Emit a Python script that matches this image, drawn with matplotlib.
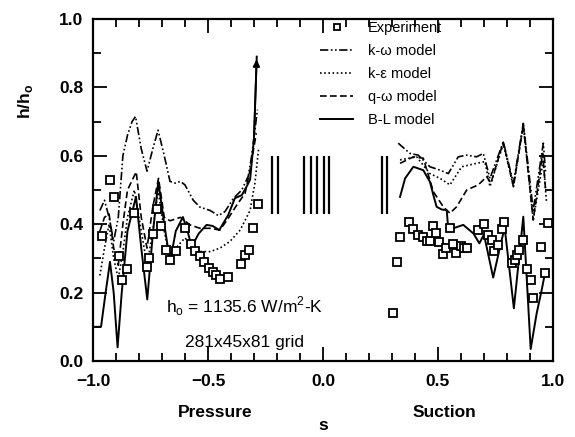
import numpy as np
import matplotlib
matplotlib.use("Agg")
import matplotlib.pyplot as plt
from matplotlib.ticker import MultipleLocator

plt.rcParams['font.family'] = ['Liberation Sans', 'DejaVu Sans']
plt.rcParams['mathtext.fontset'] = 'custom'
plt.rcParams['mathtext.rm'] = 'Liberation Sans'
plt.rcParams['mathtext.bf'] = 'Liberation Sans:bold'

# experiment, pressure side
s_exp_p = [-0.962, -0.927, -0.910, -0.885, -0.875, -0.850, -0.823, -0.767, -0.757, -0.738,
           -0.723, -0.704, -0.683, -0.665, -0.639, -0.600, -0.574, -0.557, -0.535, -0.517,
           -0.494, -0.480, -0.465, -0.448, -0.412, -0.357, -0.339, -0.320, -0.303, -0.281]
h_exp_p = [0.365, 0.530, 0.479, 0.307, 0.237, 0.268, 0.432, 0.276, 0.300, 0.372,
           0.444, 0.395, 0.325, 0.295, 0.322, 0.388, 0.341, 0.322, 0.307, 0.290,
           0.271, 0.261, 0.251, 0.239, 0.246, 0.283, 0.310, 0.325, 0.388, 0.458]

# experiment, suction side
s_exp_s = [0.306, 0.320, 0.335, 0.375, 0.393, 0.414, 0.436, 0.451, 0.465, 0.480,
           0.491, 0.506, 0.520, 0.535, 0.552, 0.564, 0.578, 0.599, 0.613, 0.625,
           0.675, 0.701, 0.719, 0.733, 0.745, 0.760, 0.777, 0.788, 0.820, 0.835,
           0.845, 0.853, 0.871, 0.888, 0.904, 0.914, 0.946, 0.965, 0.977]
h_exp_s = [0.141, 0.290, 0.363, 0.405, 0.385, 0.368, 0.363, 0.351, 0.351, 0.396,
           0.373, 0.349, 0.313, 0.330, 0.388, 0.342, 0.317, 0.336, 0.330, 0.330,
           0.383, 0.400, 0.368, 0.354, 0.323, 0.339, 0.385, 0.407, 0.286, 0.295,
           0.310, 0.325, 0.354, 0.268, 0.237, 0.183, 0.334, 0.256, 0.403]

# k-omega model
s_kw_p = [-0.97, -0.95, -0.93, -0.91, -0.89, -0.87, -0.85, -0.83, -0.815, -0.79,
          -0.765, -0.74, -0.717, -0.69, -0.665, -0.64, -0.62, -0.60, -0.564, -0.535,
          -0.49, -0.455, -0.426, -0.39, -0.353, -0.325, -0.31, -0.295, -0.285]
h_kw_p = [0.44, 0.47, 0.42, 0.35, 0.42, 0.60, 0.66, 0.70, 0.715, 0.62,
          0.555, 0.62, 0.675, 0.60, 0.525, 0.52, 0.525, 0.515, 0.47, 0.45,
          0.44, 0.425, 0.437, 0.475, 0.50, 0.54, 0.60, 0.68, 0.735]
s_kw_s = [0.327, 0.378, 0.414, 0.465, 0.509, 0.545, 0.588, 0.625, 0.668, 0.697,
          0.726, 0.784, 0.828, 0.871, 0.914, 0.958, 0.968]
h_kw_s = [0.637, 0.607, 0.602, 0.568, 0.558, 0.548, 0.597, 0.602, 0.597, 0.607,
          0.534, 0.641, 0.52, 0.695, 0.441, 0.637, 0.55]

# k-epsilon model
s_ke_p = [-0.97, -0.95, -0.93, -0.91, -0.89, -0.87, -0.85, -0.82, -0.79, -0.765,
          -0.74, -0.717, -0.69, -0.665, -0.64, -0.60, -0.565, -0.535, -0.49, -0.448,
          -0.404, -0.36, -0.317, -0.296, -0.28]
h_ke_p = [0.25, 0.33, 0.40, 0.30, 0.24, 0.32, 0.42, 0.50, 0.38, 0.28,
          0.38, 0.50, 0.38, 0.30, 0.33, 0.36, 0.33, 0.32, 0.32, 0.33,
          0.35, 0.383, 0.44, 0.52, 0.62]
s_ke_s = [0.335, 0.407, 0.465, 0.509, 0.552, 0.603, 0.668, 0.704, 0.726, 0.784,
          0.828, 0.871, 0.914, 0.958, 0.972]
h_ke_s = [0.588, 0.597, 0.548, 0.534, 0.515, 0.568, 0.578, 0.583, 0.51, 0.635,
          0.51, 0.69, 0.412, 0.588, 0.461]

# q-omega model
s_qw_p = [-0.97, -0.95, -0.93, -0.91, -0.89, -0.87, -0.85, -0.812, -0.79, -0.765,
          -0.74, -0.715, -0.69, -0.665, -0.62, -0.578, -0.535, -0.49, -0.448, -0.412,
          -0.375, -0.339, -0.317, -0.29]
h_qw_p = [0.38, 0.42, 0.43, 0.33, 0.28, 0.40, 0.50, 0.553, 0.42, 0.33,
          0.45, 0.534, 0.42, 0.41, 0.42, 0.398, 0.388, 0.388, 0.383, 0.417,
          0.456, 0.49, 0.558, 0.666]
s_qw_s = [0.335, 0.393, 0.436, 0.48, 0.523, 0.552, 0.581, 0.625, 0.675, 0.712,
          0.73, 0.784, 0.828, 0.871, 0.914, 0.955, 0.968]
h_qw_s = [0.578, 0.597, 0.593, 0.495, 0.451, 0.432, 0.451, 0.50, 0.515, 0.539,
          0.52, 0.64, 0.51, 0.69, 0.412, 0.607, 0.50]

# B-L model
s_bl_p = [-0.99, -0.965, -0.945, -0.926, -0.91, -0.893, -0.875, -0.85, -0.813, -0.79,
          -0.764, -0.74, -0.716, -0.69, -0.665, -0.64, -0.609, -0.59, -0.571, -0.54,
          -0.506, -0.48, -0.451, -0.412, -0.383, -0.353, -0.332, -0.317, -0.30, -0.288]
h_bl_p = [0.10, 0.10, 0.20, 0.29, 0.20, 0.04, 0.20, 0.38, 0.48, 0.33,
          0.18, 0.37, 0.525, 0.40, 0.29, 0.38, 0.421, 0.383, 0.334, 0.373,
          0.398, 0.395, 0.383, 0.427, 0.476, 0.485, 0.51, 0.53, 0.65, 0.89]
s_bl_s = [0.335, 0.357, 0.393, 0.436, 0.465, 0.48, 0.494, 0.516, 0.538, 0.545,
          0.575, 0.61, 0.654, 0.68, 0.70, 0.74, 0.77, 0.79, 0.83, 0.871,
          0.903, 0.929, 0.951, 0.965]
h_bl_s = [0.48, 0.534, 0.568, 0.558, 0.524, 0.485, 0.451, 0.443, 0.441, 0.383,
          0.39, 0.398, 0.373, 0.344, 0.37, 0.244, 0.334, 0.39, 0.154, 0.422,
          0.035, 0.139, 0.208, 0.256]

# vertical marks between the two sides
s_marks = [-0.220, -0.194, -0.081, -0.053, -0.025, 0.004, 0.027, 0.255, 0.277]
mark_lo, mark_hi = 0.43, 0.60

kw_style = (0, (5, 1.5, 1, 1.5, 1, 1.5))
ke_style = (0, (1, 1.5))
qw_style = (0, (4, 2))

fig = plt.figure(figsize=(5.75, 4.37), dpi=100)
ax = fig.add_axes([0.1617, 0.1739, 0.8, 0.7826])

ax.plot(s_exp_p, h_exp_p, 's', mfc='white', mec='black', ms=5.2, mew=1.3, label='Experiment', zorder=5)
ax.plot(s_exp_s, h_exp_s, 's', mfc='white', mec='black', ms=5.2, mew=1.3, zorder=5)

ax.plot(s_kw_p, h_kw_p, color='black', lw=1.2, ls=kw_style, label='k-ω model')
ax.plot(s_kw_s, h_kw_s, color='black', lw=1.2, ls=kw_style)
ax.plot(s_ke_p, h_ke_p, color='black', lw=1.2, ls=ke_style, label='k-ε model')
ax.plot(s_ke_s, h_ke_s, color='black', lw=1.2, ls=ke_style)
ax.plot(s_qw_p, h_qw_p, color='black', lw=1.2, ls=qw_style, label='q-ω model')
ax.plot(s_qw_s, h_qw_s, color='black', lw=1.2, ls=qw_style)
ax.plot(s_bl_p, h_bl_p, color='black', lw=1.4, label='B-L model')
ax.plot(s_bl_s, h_bl_s, color='black', lw=1.4)
ax.annotate('', xy=(s_bl_p[-1], h_bl_p[-1]), xytext=(s_bl_p[-2], h_bl_p[-2]),
            arrowprops=dict(arrowstyle='-|>', color='black', lw=1.3, mutation_scale=10))

ax.vlines(s_marks, mark_lo, mark_hi, color='black', lw=1.6)

ax.set_xlim(-1.0, 1.0)
ax.set_ylim(0.0, 1.0)
ax.xaxis.set_major_locator(MultipleLocator(0.5))
ax.xaxis.set_minor_locator(MultipleLocator(0.1))
ax.yaxis.set_major_locator(MultipleLocator(0.2))
ax.yaxis.set_minor_locator(MultipleLocator(0.1))
ax.set_xticks([-1.0, -0.5, 0.0, 0.5, 1.0])
ax.set_xticklabels(['−1.0', '−0.5', '0.0', '0.5', '1.0'])
ax.set_yticks([0.0, 0.2, 0.4, 0.6, 0.8, 1.0])
ax.set_yticklabels(['0.0', '0.2', '0.4', '0.6', '0.8', '1.0'])
ax.tick_params(which='both', direction='in', top=True, right=True, width=1.3)
ax.tick_params(which='major', length=10)
ax.tick_params(which='minor', length=6)
ax.tick_params(axis='x', which='major', pad=9)
ax.tick_params(axis='y', which='major', pad=7)
for lab in ax.get_xticklabels() + ax.get_yticklabels():
    lab.set_fontsize(12.5)
    lab.set_fontweight('bold')
for sp in ax.spines.values():
    sp.set_linewidth(1.6)

ax.set_ylabel(r'h/h$_{\mathbf{o}}$', fontsize=12.5, fontweight='bold')
ax.yaxis.set_label_coords(-0.125, 0.76)
ax.text(-0.47, -0.15, 'Pressure', transform=ax.get_xaxis_transform(), ha='center', va='center',
        fontsize=12.5, fontweight='bold')
ax.text(0.53, -0.15, 'Suction', transform=ax.get_xaxis_transform(), ha='center', va='center',
        fontsize=12.5, fontweight='bold')
ax.text(0.0, -0.19, 's', transform=ax.get_xaxis_transform(), ha='center', va='center',
        fontsize=12.5, fontweight='bold')

ax.text(0.33, 0.16, r'h$_\mathrm{o}$ = 1135.6 W/m$^\mathrm{2}$-K', transform=ax.transAxes,
        ha='center', va='center', fontsize=12.5)
ax.text(0.33, 0.055, '281x45x81 grid', transform=ax.transAxes,
        ha='center', va='center', fontsize=12.5)

ax.legend(loc='upper left', bbox_to_anchor=(0.493, 0.995), frameon=False, fontsize=10.5,
          handlelength=2.3, handletextpad=1.0, labelspacing=0.62, borderpad=0, borderaxespad=0,
          markerscale=0.8)

plt.savefig("out.png", dpi=100)
